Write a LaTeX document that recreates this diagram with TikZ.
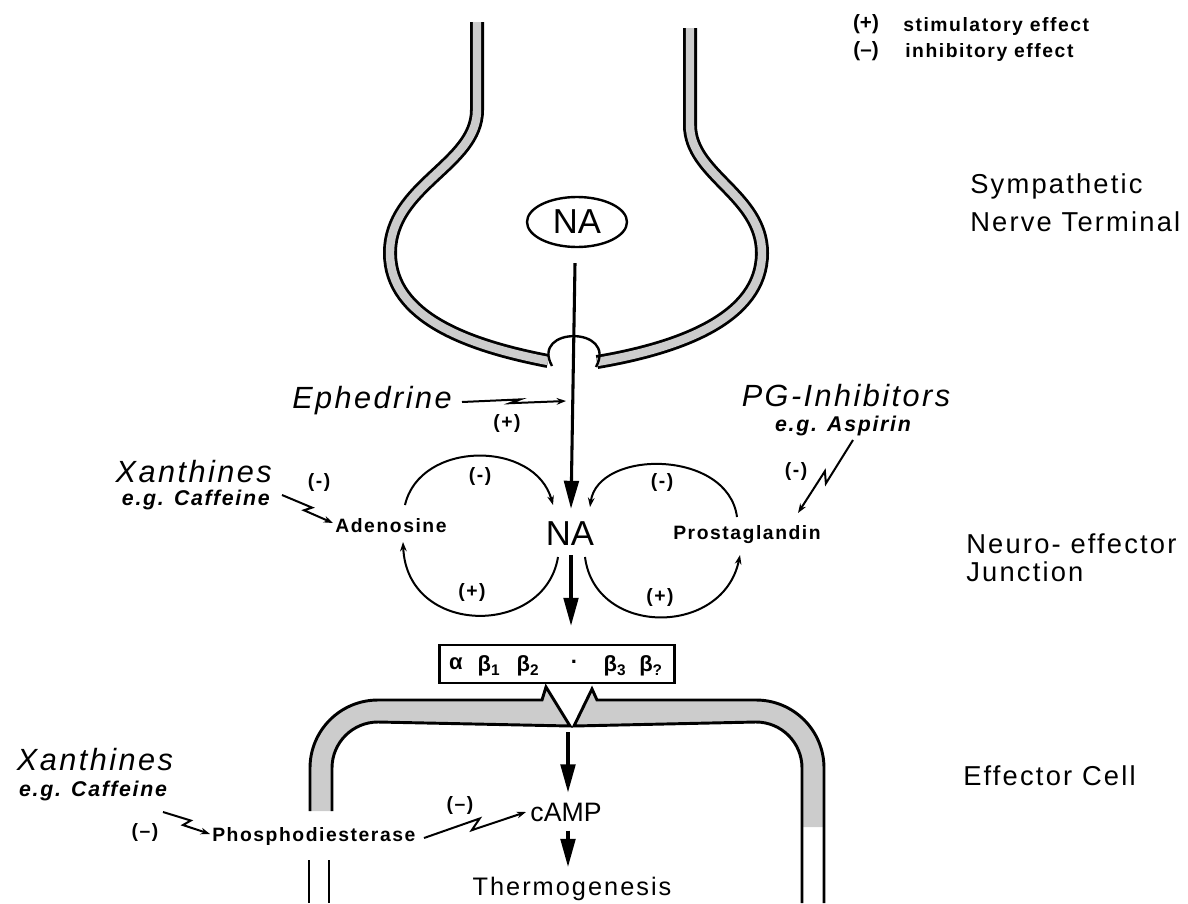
\documentclass[tikz,border=0pt]{standalone}
\usepackage{fontspec}
\setmainfont{Liberation Sans}
\newfontfamily\lsfont[LetterSpace=8]{Liberation Sans}
\usetikzlibrary{arrows.meta,calc,shapes.geometric}
\newcommand\zigzag[3]{\draw[inh] (#1) -- ($(#1)!0.56!#3:(#2)$) -- ($(#1)!0.46!-#3:(#2)$) -- (#2);}
\begin{document}
\begin{tikzpicture}[x=0.75pt,y=-0.75pt,
  lab/.style={font=\lsfont\bfseries\fontsize{14.5}{16}\selectfont, inner sep=0pt},
  side/.style={font=\lsfont\fontsize{20.5}{24}\selectfont, inner sep=0pt, anchor=west},
  drug/.style={font=\lsfont\itshape\fontsize{23}{26}\selectfont, inner sep=0pt},
  eg/.style={font=\lsfont\bfseries\itshape\fontsize{16}{18}\selectfont, inner sep=0pt},
  bigtxt/.style={font=\fontsize{26}{28}\selectfont, inner sep=0pt},
  midtxt/.style={font=\fontsize{20}{22}\selectfont, inner sep=0pt},
  rtxt/.style={font=\bfseries\fontsize{16.5}{18}\selectfont, inner sep=0pt},
  main/.style={line width=2.3pt, -{Triangle[length=21pt,width=11pt]}},
  arcline/.style={line width=1.5pt, -{Stealth[length=7pt,width=5pt]}},
  inh/.style={line width=1.5pt, -{Stealth[length=7pt,width=5pt]}},
  memb/.style={line width=10.5pt, black},
  membfill/.style={line width=6.3pt, gray!40},
  cellfill/.style={fill=gray!40},
  cellline/.style={line width=2.2pt, line join=miter},
]
\useasboundingbox (0,0) rectangle (1188,903);

% ---- legend
\node[lab, font=\bfseries\fontsize{15.5}{16}\selectfont] (lp) at (866,24) {(+)};
\node[lab, anchor=west] (lpt) at (903,27) {stimulatory effect};
\node[lab, font=\bfseries\fontsize{15.5}{16}\selectfont] (lm) at (866,51) {(\textendash)};
\node[lab, anchor=west] (lmt) at (905,53) {inhibitory effect};

% ---- side labels
\node[side] (s1) at (970,186) {Sympathetic};
\node[side] (s2) at (970,222) {Nerve Terminal};
\node[side] (s3) at (966,544) {Neuro- effector};
\node[side] (s4) at (966,572) {Junction};
\node[side] (s5) at (963,776) {Effector Cell};

% ---- nerve terminal membrane
\def\lmemb{(477,22) -- (477,110) .. controls (477,165) and (390,185) .. (390,253) .. controls (390,318) and (470,346) .. (548,361)}
\def\rmemb{(690,28) -- (690,125) .. controls (690,175) and (762,195) .. (762,253) .. controls (762,318) and (680,348) .. (597,362)}
\draw[memb] \lmemb;
\draw[membfill] \lmemb;
\draw[memb] \rmemb;
\draw[membfill] \rmemb;
\draw[line width=1.8pt] (552,366) .. controls (530,326) and (618,326) .. (596,367);

\node[ellipse, draw, line width=1.8pt, minimum width=75pt, minimum height=37.5pt, inner sep=0pt, bigtxt] (na1) at (577,222) {NA};

% ---- junction
\node[bigtxt] (na2) at (570,534) {NA};
\draw[main] ($(na1.south)+(-2,15)$) -- ($(na2.north)+(1,-13)$);
\node[drug] (eph) at (372,401) {Ephedrine};
\coordinate (e1) at (462,402);
\coordinate (e2) at (566,401);
\zigzag{e1}{e2}{2}
\node[lab] (ephp) at (507,423) {(+)};

\node[drug, anchor=east] (xan1) at (272,472) {Xanthines};
\node[eg, anchor=east] (caf1) at (270,500) {e.g. Caffeine};
\node[lab] (xm1) at (319,482) {(-)};
\node[lab] (aden) at (391,526) {Adenosine};
\coordinate (x1a) at (282,495);
\coordinate (x1b) at (333,523);
\zigzag{x1a}{x1b}{6}

\coordinate (a1) at (405,505);
\coordinate (a2) at (553,505);
\coordinate (a3) at (558,557);
\coordinate (a4) at (403,542);
\draw[arcline] (a1) .. controls (420,440) and (535,440) .. (a2);
\draw[arcline] (a3) .. controls (545,637) and (407,637) .. (a4);
\node[lab] (am) at (480,476) {(-)};
\node[lab] (ap) at (472,592) {(+)};

\node[lab] (pros) at (747,535) {Prostaglandin};
\coordinate (p1) at (737,517);
\coordinate (p2) at (590,507);
\coordinate (p3) at (585,557);
\coordinate (p4) at (740,555);
\draw[arcline] (p1) .. controls (728,449) and (598,449) .. (p2);
\draw[arcline] (p3) .. controls (595,637) and (723,637) .. (p4);
\node[lab] (pm) at (662,482) {(-)};
\node[lab] (pp) at (660,597) {(+)};

\node[drug] (pgi) at (846,396) {PG-Inhibitors};
\node[eg] (asp) at (843,426) {e.g. Aspirin};
\node[lab] (pgm) at (796,471) {(-)};
\coordinate (g1) at (853,440);
\coordinate (g2) at (798,513);
\zigzag{g1}{g2}{5}

% ---- receptors
\node[draw, line width=1.8pt, minimum width=176pt, minimum height=28.5pt, inner sep=0pt] (rec) at (557,664) {};
\draw[main] ($(na2.south)+(1,9)$) -- ($(rec.north)+(14,-18)$);
\node[rtxt] (r1) at (456,664) {α};
\node[rtxt] (r2) at (489,666) {β\textsubscript{1}};
\node[rtxt] (r3) at (528,666) {β\textsubscript{2}};
\node[rtxt] (r4) at (574,662) {.};
\node[rtxt] (r5) at (615,666) {β\textsubscript{3}};
\node[rtxt] (r6) at (651,666) {β\textsubscript{?}};

% ---- effector cell membrane
\fill[cellfill] (310,811) -- (310,768) .. controls (310,730.4) and (340.4,700) .. (378,700) -- (542,700) -- (546,687) -- (570,726) -- (378,722) .. controls (352.6,722) and (332,742.6) .. (332,768) -- (332,811) -- cycle;
\draw[cellline] (310,811) -- (310,768) .. controls (310,730.4) and (340.4,700) .. (378,700) -- (542,700) -- (546,687) -- (570,726) -- (378,722) .. controls (352.6,722) and (332,742.6) .. (332,768) -- (332,811);
\fill[cellfill] (824,827) -- (824,768) .. controls (824,730.4) and (793.6,700) .. (756,700) -- (597,700) -- (592,689) -- (574,726) -- (756,722) .. controls (781.4,722) and (802,742.6) .. (802,768) -- (802,827) -- cycle;
\draw[cellline] (824,903) -- (824,768) .. controls (824,730.4) and (793.6,700) .. (756,700) -- (597,700) -- (592,689) -- (574,726) -- (756,722) .. controls (781.4,722) and (802,742.6) .. (802,768) -- (802,903);
\draw[line width=1.8pt] (309,860) -- (309,903);
\draw[line width=1.8pt] (329,860) -- (329,903);

\coordinate (vbot) at (570,729);
\node[midtxt] (camp) at (566,812) {cAMP};
\node[midtxt, font=\lsfont\fontsize{19}{22}\selectfont] (therm) at (572,889) {Thermogenesis};
\draw[main] ($(vbot)+(-2,3)$) -- ($(camp.north)+(2,-10)$);
\draw[main] ($(camp.south)+(2,9)$) -- ($(therm.north)+(-4,-10)$);

\node[drug] (xan2) at (95,760) {Xanthines};
\node[eg] (caf2) at (93,791) {e.g. Caffeine};
\node[lab] (xm2) at (145,832) {(\textendash)};
\node[lab, anchor=west] (pde) at (212,836) {Phosphodiesterase};
\coordinate (x2a) at (163,812);
\coordinate (x2b) at (210,834);
\zigzag{x2a}{x2b}{8}
\coordinate (c1) at (424,838);
\coordinate (c2) at (526,812);
\zigzag{c1}{c2}{5}
\node[lab] (cm) at (460,805) {(\textendash)};
\end{tikzpicture}
\end{document}
